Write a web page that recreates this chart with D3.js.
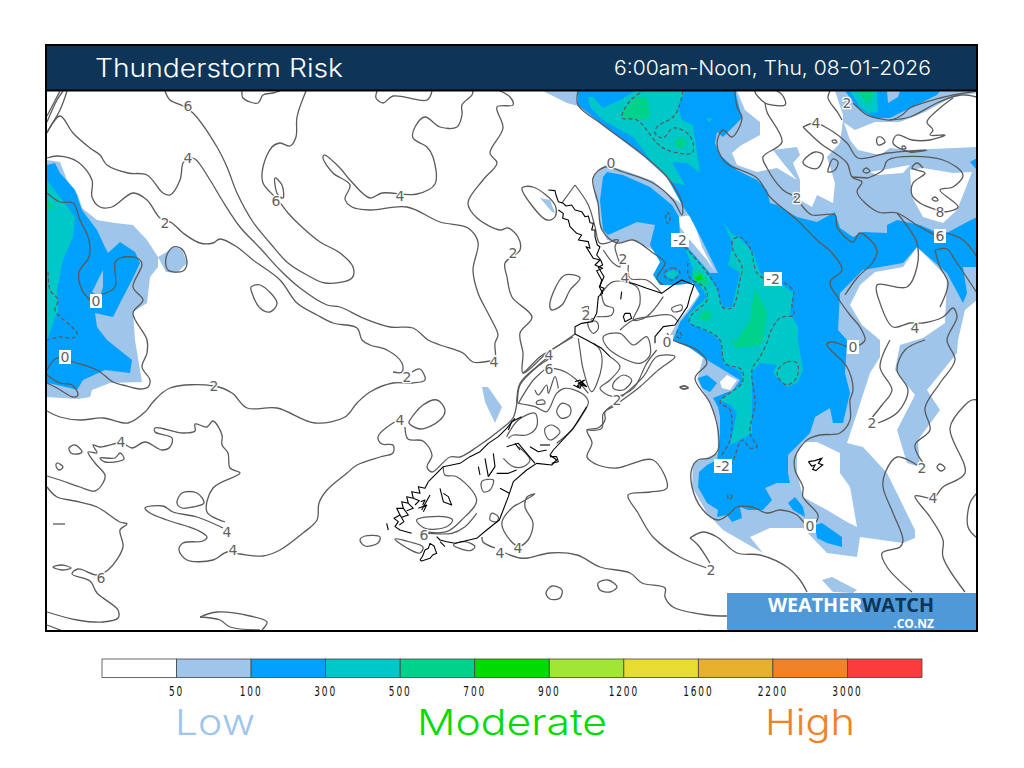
<!DOCTYPE html>
<html><head><meta charset="utf-8">
<script src="https://cdn.jsdelivr.net/npm/d3@7"></script>
<style>html,body{margin:0;padding:0;background:#fff}svg{display:block}</style>
</head><body><svg id="c" width="1024" height="768"></svg>
<script>
const titleText="Thunderstorm Risk", validText="6:00am-Noon, Thu, 08-01-2026";
const legendThresholds=["50","100","300","500","700","900","1200","1600","2200","3000"];
const legendColors=["#ffffff","#9fc5ea","#00a0ff","#00c8c8","#00d28c","#00dc00","#a0e632","#e6dc32","#e6af2d","#f08228","#fa3c3c"];
const riskWords=[["Low",215,"#9fc5ea",80],["Moderate",512,"#00dc00",190],["High",810,"#f08228",90]];

// CAPE areas on the map grid
const lowAreas=[
[[47,160],[60,162],[67,180],[78,195],[82,208],[97,220],[115,223],[133,225],[147,240],[158,257],[158,267],[150,277],[147,303],[133,312],[135,340],[142,382],[110,383],[92,390],[90,397],[78,399],[47,397]],
[[158,257],[166,272],[177,273],[187,263],[182,249],[173,247],[165,253]],
[[482,387],[488,387],[502,407],[495,423],[485,402]],
[[822,580],[832,577],[857,590],[853,593],[833,592]],
[[540,198],[550,200],[555,213],[552,212]],
[[835,91],[843,115],[843,122],[855,130],[875,122],[900,122],[925,112],[950,98],[977,93],[977,91]],
[[543,91],[555,97],[567,103],[578,106],[603,126],[643,156],[667,178],[682,204],[673,198],[653,181],[623,170],[605,165],[593,177],[595,197],[598,205],[600,225],[607,240],[620,243],[633,240],[653,250],[665,262],[657,278],[663,285],[680,285],[693,283],[700,293],[690,307],[677,323],[670,335],[673,340],[690,345],[703,358],[697,380],[710,403],[717,420],[718,453],[693,463],[692,487],[707,513],[723,530],[763,553],[750,537],[770,528],[803,528],[827,553],[857,557],[860,537],[903,543],[915,538],[915,530],[887,473],[863,447],[847,443],[857,413],[870,373],[880,357],[880,340],[862,325],[850,305],[860,285],[875,272],[903,267],[917,247],[947,277],[945,323],[923,338],[900,345],[895,370],[915,395],[897,430],[907,463],[920,467],[918,440],[940,410],[927,390],[957,353],[958,340],[965,310],[977,300],[977,147],[910,150],[890,148],[880,155],[858,150],[850,140],[843,120],[840,143],[827,157],[835,183],[833,203],[817,195],[812,207],[800,200],[800,180],[793,163],[800,155],[797,147],[773,150],[783,163],[797,180],[777,168],[757,172],[737,165],[732,153],[740,146],[760,135],[760,122],[745,110],[737,91]]
];
const clearAreas=[
[[678,217],[692,215],[702,247],[715,272],[707,260],[690,240],[680,227]],
[[797,453],[803,442],[817,442],[840,453],[840,473],[850,487],[857,527],[847,522],[827,510],[803,497],[797,473]],
[[910,170],[923,168],[953,173],[972,172],[965,190],[957,210],[943,223],[923,217],[912,197]],
[[870,172],[910,165],[903,173],[877,175]],
[[720,382],[727,375],[737,380],[730,390],[722,388]]
];
const midAreas=[
[[47,165],[55,163],[60,173],[75,190],[82,210],[97,230],[103,243],[108,253],[120,242],[135,252],[140,263],[132,280],[120,303],[113,317],[95,313],[97,327],[107,340],[132,360],[130,373],[105,370],[83,380],[77,390],[70,388],[48,383],[47,383]],
[[578,91],[578,105],[603,125],[643,155],[667,177],[682,205],[690,217],[702,240],[718,273],[710,273],[690,250],[680,238],[679,217],[672,205],[650,187],[623,175],[607,172],[603,177],[600,200],[603,230],[608,235],[637,222],[655,225],[650,245],[660,262],[653,275],[660,285],[675,285],[693,283],[700,295],[690,310],[680,322],[673,340],[690,348],[707,360],[727,372],[740,380],[733,390],[713,398],[718,407],[720,417],[720,437],[717,460],[707,465],[699,472],[698,487],[707,503],[718,510],[717,517],[727,515],[732,522],[742,518],[740,507],[748,510],[763,510],[772,500],[765,488],[777,483],[790,483],[788,473],[788,455],[810,433],[815,417],[830,408],[833,423],[843,423],[850,393],[845,373],[847,340],[838,330],[840,293],[863,270],[903,263],[917,247],[947,273],[963,303],[967,293],[963,267],[977,267],[977,217],[967,222],[943,235],[920,225],[897,220],[887,225],[887,233],[863,232],[853,237],[840,228],[835,212],[817,222],[797,217],[777,205],[770,203],[767,190],[757,180],[737,170],[720,155],[715,143],[717,132],[723,137],[742,118],[735,91]],
[[845,91],[857,107],[873,118],[890,118],[910,108],[937,95],[940,91]],
[[698,378],[707,375],[717,383],[710,392],[702,388]],
[[788,503],[795,497],[803,507],[805,517],[793,510]],
[[815,525],[822,523],[842,537],[842,547],[827,543],[817,538]],
[[970,162],[977,158],[977,170]]
];
const midHoles=[[[843,225],[855,224],[852,231],[843,230]]];
const lowInMid=[[[92,292],[103,270],[103,287],[100,297]],[[887,91],[888,103],[898,97],[900,91]]];
const tealAreas=[
[[47,180],[60,197],[75,217],[73,237],[63,260],[57,290],[58,310],[47,340]],
[[588,97],[593,97],[603,108],[620,100],[635,91],[685,91],[678,107],[682,120],[693,125],[700,173],[687,163],[672,162],[685,185],[673,183],[653,163],[633,137],[603,120],[590,107]],
[[707,118],[713,119],[708,122]],
[[723,222],[733,235],[740,238],[753,253],[760,273],[780,283],[793,293],[790,313],[798,327],[798,340],[803,370],[797,383],[787,387],[773,373],[777,365],[760,363],[752,372],[752,433],[740,440],[730,445],[737,412],[730,405],[720,400],[742,383],[742,372],[723,363],[720,340],[710,333],[690,323],[688,315],[707,297],[697,280],[687,253],[685,247],[705,268],[717,290],[723,308],[732,307],[740,273],[728,265],[733,243]],
[[666,273],[673,270],[679,273],[673,279],[667,277]],
[[850,91],[860,107],[868,113],[878,112],[877,91]]
];
const greenAreas=[
[[47,200],[53,205],[52,210],[47,208]],
[[622,112],[635,97],[648,97],[650,118],[635,120],[623,118]],
[[675,140],[682,137],[688,143],[682,148],[675,147]],
[[755,288],[767,313],[763,340],[760,345],[737,348],[730,340],[737,340],[750,320]],
[[697,317],[707,310],[713,315],[707,322]],
[[692,270],[703,273],[710,283],[702,287],[693,280]],
[[857,91],[867,105],[873,97],[873,91]]
];
const brightAreas=[[[694,278],[700,275],[703,278],[698,281]]];

// Lifted-index contours on the map grid
const contourLines=[
[[473,91],[472,95],[462,105],[462,115],[457,127],[440,127],[425,117],[415,127],[413,138],[427,147],[433,157],[435,184],[417,194],[382,193],[370,198],[350,180],[340,168],[324,155],[323,158],[333,173],[350,185],[345,199],[352,207],[370,210],[407,207],[440,222],[468,228],[478,242],[473,270],[478,293],[490,317],[498,335],[495,343],[495,360],[490,361],[473,362],[463,353],[440,345],[428,340],[413,328],[390,327],[363,318],[340,307],[327,305],[300,288],[280,270],[260,248],[240,227],[222,200],[210,180],[195,159],[188,158],[183,163],[180,180],[170,195],[163,193],[147,175],[128,173],[107,165],[100,155],[90,148],[73,133],[60,116],[47,133]],
[[165,91],[170,100],[183,106],[193,113],[217,147],[227,167],[237,193],[253,222],[270,243],[288,263],[307,275],[325,283],[352,278],[353,267],[340,253],[320,242],[303,228],[288,213],[278,200],[263,183],[263,167],[272,147],[280,143],[290,146],[296,137],[297,117],[306,91]],
[[47,158],[58,156],[78,162],[92,180],[92,197],[100,207],[112,207],[133,193],[147,200],[160,218],[172,223],[183,233],[200,243],[213,243],[220,239],[237,247],[253,260],[280,280],[297,303],[317,315],[333,323],[357,328],[362,340],[370,345],[387,350],[402,363],[402,372],[393,372]],
[[412,372],[420,369],[425,380],[412,383],[393,383],[370,392],[357,403],[345,417],[315,423],[277,408],[247,408],[232,393],[214,386],[170,388],[153,402],[145,412],[128,423],[103,418],[80,420],[60,417],[47,411]],
[[400,420],[393,423],[378,437],[382,444],[393,445],[393,453],[380,457],[357,465],[347,473],[327,490],[319,503],[317,520],[303,533],[280,550],[263,556],[240,554],[227,552],[213,560],[187,560],[179,550],[183,543],[203,541],[207,537],[197,530],[167,520],[150,513],[145,508],[163,506],[173,512],[197,517],[223,528]],
[[225,522],[207,512],[213,488],[240,473],[230,468],[228,453],[222,445],[222,435],[213,421],[207,427],[195,424],[195,431],[183,433],[155,428],[155,432],[172,438],[170,447],[162,450],[145,442],[132,448],[121,442],[117,443],[100,447],[93,445],[97,453],[88,452],[95,463],[105,475],[103,483],[95,491],[80,487],[60,480],[47,476]],
[[405,427],[408,439],[423,441],[432,455],[427,467],[432,472],[450,457],[460,457],[477,447],[500,430],[513,418],[517,403],[520,385],[537,367],[549,359]],
[[500,91],[510,97],[513,105],[497,107],[503,128],[490,153],[497,163],[483,180],[468,203],[477,218],[500,230],[508,228],[518,237],[520,250],[505,263],[507,277],[512,297],[532,317],[520,333],[523,353],[523,373],[547,353],[573,337]],
[[47,487],[57,497],[75,501],[97,507],[120,522],[127,524],[120,530],[123,547],[108,570],[97,575],[78,569],[72,574],[90,581],[97,593],[118,610],[118,618],[103,622],[77,620],[47,612]],
[[242,91],[243,98],[258,103],[263,95],[273,93],[280,91]],
[[377,91],[376,98],[383,103],[393,96],[427,100],[432,91]],
[[47,116],[60,91]],[[47,122],[57,100],[63,91]],[[47,132],[60,110],[67,91]],
[[53,524],[65,524]],[[47,625],[63,631]],
[[200,617],[217,612],[250,616],[267,622],[262,630]],[[200,617],[220,620],[230,627],[260,630]],
[[47,193],[60,202],[73,203],[80,220],[89,240],[89,257],[79,272],[82,290],[92,302]],
[[100,295],[115,287],[115,263],[120,258],[137,258],[142,264],[133,287],[143,300],[133,313],[147,340],[147,353],[142,367],[150,380],[148,387],[140,389],[123,385],[113,382],[97,370],[73,362],[57,358],[47,370]],
[[47,375],[60,383],[72,385],[78,395],[73,397],[57,388],[47,383]],
[[578,91],[578,105],[603,125],[643,155],[667,177],[682,203],[682,215],[673,200],[653,183],[623,172],[605,167],[593,178],[598,203],[602,230],[617,243],[633,240],[653,253],[665,263],[657,278],[663,285]],
[[667,333],[673,340],[697,350],[707,363],[695,378],[710,403],[718,430],[718,450],[710,458],[698,460],[692,468],[692,487],[703,510],[718,520],[728,515],[737,507],[752,507],[767,513],[780,510],[797,515],[805,523],[815,523],[818,515],[803,497],[803,487],[795,470],[795,457],[807,440],[820,435],[840,433],[850,420],[850,400],[853,390],[847,367],[827,345],[830,342],[848,347]],
[[765,103],[767,112],[782,142],[763,157],[767,168],[783,190],[797,198],[803,207],[812,215],[835,215],[837,227],[853,242],[860,233],[877,250],[873,262],[857,278],[845,295]],
[[735,91],[737,107],[742,118],[732,137],[723,130],[717,143],[725,162],[757,178],[770,197],[797,220],[817,240],[832,253],[842,270],[830,282],[838,298],[850,315],[860,327],[865,340],[858,346]],
[[830,91],[828,98],[838,113],[842,120]],
[[853,103],[867,115],[877,118],[890,120],[902,115],[910,108],[940,98],[953,95],[977,91]],
[[890,120],[910,117],[937,103],[960,95],[977,97]],
[[803,127],[815,123],[827,128],[847,143],[858,158],[888,153],[927,150],[910,152],[893,143],[897,135],[912,140],[930,140],[945,135],[930,135],[933,130],[927,122],[940,108],[953,98]],
[[803,127],[820,143],[847,163],[852,177],[862,182],[857,192],[878,212],[897,213],[920,227],[940,236],[943,233],[963,240],[977,257]],
[[868,178],[883,170],[888,160],[943,160],[963,175],[953,187],[940,190],[958,207],[945,212],[937,210],[920,203],[912,195],[913,183],[925,173],[912,168],[917,163],[923,168]],
[[852,177],[868,178]],
[[897,213],[910,230],[917,243],[917,267],[907,287],[877,285],[880,303],[893,327],[910,323],[923,323],[943,317],[953,308],[957,317],[947,340],[955,360],[940,383],[925,408],[930,430],[915,445],[923,463]],
[[935,250],[947,249],[955,260],[977,293]],[[935,250],[940,267],[948,283],[940,307]],
[[917,465],[897,457],[885,473],[883,487],[893,513],[903,540],[900,547],[882,553],[887,567],[912,592]],
[[890,340],[880,367],[892,390],[882,405],[870,420]],
[[878,423],[898,412],[908,390],[897,370],[905,350],[925,340]],
[[977,400],[972,400],[965,405],[950,428],[965,473],[943,487],[933,498],[915,496],[930,517],[943,540],[943,557],[965,592]],
[[977,493],[970,503],[968,527],[977,538]],
[[613,405],[605,412],[605,420],[598,428],[587,430],[592,443],[587,457],[598,465],[617,468],[653,460],[667,488],[650,492],[628,495],[638,513],[653,537],[680,557],[707,568]],
[[690,538],[703,532],[717,537],[737,553],[760,555],[787,567],[800,580],[807,592]],[[690,538],[698,545],[710,563]],
[[505,553],[520,558],[528,558],[550,553],[577,555],[600,567],[630,573],[642,583],[665,588],[665,597],[673,607],[707,615],[727,616]],
[[482,537],[483,542],[495,548]],
[[697,631],[700,630]]
];
const contourLoops=[
[[275,178],[282,185],[283,198],[278,195],[275,185]],
[[69,448],[75,445],[82,452],[77,454],[71,453]],[[57,463],[63,467],[59,470],[56,466]],
[[100,458],[115,458],[120,453],[124,459],[105,462]],
[[177,503],[182,493],[197,493],[204,503],[193,507],[182,508]],
[[53,567],[62,565],[71,568],[62,570]],
[[360,540],[365,536],[380,537],[378,543],[365,546]],
[[410,420],[423,405],[437,400],[445,410],[440,420],[420,429],[409,423]],
[[395,539],[410,542],[423,547],[420,553],[407,548]],
[[251,287],[260,285],[277,303],[270,312],[260,308],[252,293]],
[[166,258],[173,247],[182,249],[187,263],[183,271],[168,270]],
[[755,91],[765,103],[772,105],[785,105],[785,100],[777,91]],
[[803,162],[815,152],[823,155],[818,168],[808,167]],[[828,170],[833,159],[838,162],[835,170],[828,172]],
[[877,138],[881,137],[885,142],[878,145]],[[832,141],[835,140],[837,142],[834,143]],
[[863,171],[866,168],[870,171],[866,173]],[[932,199],[935,197],[938,200],[935,201]],[[902,147],[904,146],[906,148],[903,149]],
[[937,467],[940,464],[945,468],[941,471]],
[[546,593],[552,586],[562,590],[560,598],[550,599]],[[598,583],[608,580],[617,587],[610,592],[600,590]],
[[680,387],[684,386],[688,388],[684,389]],
[[550,308],[553,293],[565,275],[580,278],[570,290],[562,305],[552,310]],
[[522,188],[533,187],[555,205],[555,217],[547,220],[530,203]],
[[535,494],[527,497],[525,507],[533,523],[528,540],[518,546],[505,533],[502,522],[513,507],[520,503]]
];
const dashedLines=[
[[683,91],[675,115],[657,127],[655,133],[663,138],[673,128],[687,133],[693,143],[692,153],[667,150],[657,143],[637,120],[622,118],[625,108],[633,98],[643,91]],
[[688,263],[689,277],[705,288],[707,300],[690,317],[690,323],[710,332],[720,340],[725,363],[742,370],[742,383],[720,402],[730,410],[730,440],[720,457]],
[[685,247],[705,270],[718,290],[722,307],[732,308],[740,280],[742,267],[733,250],[733,240],[740,237],[750,248],[757,273],[767,280]],
[[778,280],[793,290],[792,307],[794,315],[780,318],[770,333],[768,340],[760,357],[752,370],[755,403],[750,433],[757,447],[750,448],[742,440],[732,463],[727,467]],
[[48,272],[50,290],[58,300],[55,310],[72,327],[77,333],[73,338],[60,337],[47,340]]
];
const dashedLoops=[
[[667,212],[670,217],[669,223],[666,222]],
[[665,272],[673,268],[680,272],[673,280],[665,277]],
[[778,370],[787,362],[797,363],[797,377],[787,385],[778,377]],
[[728,495],[732,496],[729,500]],
[[678,330],[677,337],[682,337]]
];
const contourLabels=[
["6",188,106,0],["4",188,158,0],["6",276,201,0],["4",400,196,0],["2",165,223,0],["2",513,253,0],["0",611,163,0],["2",847,103,0],["4",816,123,0],["2",797,198,0],["8",940,212,0],["6",940,236,1],["2",623,259,0],["4",625,278,0],["2",586,315,0],["4",494,362,0],["2",407,377,0],["2",214,386,0],["4",400,420,0],["4",121,442,0],["4",227,532,0],["4",233,550,0],["6",101,578,0],["6",424,535,0],["4",500,553,0],["4",518,548,0],["6",549,369,0],["2",617,400,0],["2",711,570,0],["2",872,423,0],["4",915,328,0],["2",922,468,0],["4",933,498,0],["4",549,355,0],
["0",96,301,1],["0",65,357,1],["0",667,342,1],["0",853,347,1],["0",810,526,1],["-2",680,240,1],["-2",773,279,1],["-2",723,466,1]
];

// New Zealand detail, on its own finer grid
const coastLines=[
[[505,30],[525,32],[528,45],[535,65],[550,70],[558,78],[575,75],[585,90],[605,95],[615,110],[625,108],[630,128],[640,130],[635,150],[645,150],[645,170],[652,195],[660,200],[650,225],[662,240],[668,255],[655,262],[672,290],[658,320],[668,340],[655,350],[650,400],[637,425],[605,430],[585,440],[585,462],[620,480],[665,505],[690,530]],
[[535,90],[550,100],[548,115],[565,120],[570,140],[590,160],[605,165],[595,180],[625,185],[630,205],[618,200],[640,235],[660,240],[645,255],[668,265],[650,272],[665,300],[660,320],[672,325],[660,345]],
[[745,295],[750,308],[765,312],[800,325],[845,340],[880,315],[905,300],[942,315],[930,350],[922,380],[895,420],[885,435],[850,440],[825,470],[825,490]],
[[145,905],[190,860],[240,850],[270,830],[300,815],[325,790],[355,770],[380,745],[405,715]],
[[620,680],[580,745],[520,810],[510,825],[530,840],[515,855],[470,850],[440,870],[400,905],[385,950],[358,1020],[320,1050],[290,1075],[225,1090],[200,1085],[180,1080],[170,1070]],
[[145,905],[135,925],[115,920],[120,940],[95,935],[100,955],[80,950],[85,970],[65,965],[70,985],[50,985],[60,1005],[42,1015],[55,1025],[45,1040],[60,1050],[95,1060]],
[[100,955],[118,962],[105,975]],[[85,970],[100,985],[80,992]],[[70,985],[85,1005],[65,1012]],[[60,1005],[72,1025],[58,1035]],
[[125,990],[150,945]],[[115,985],[140,975],[130,995]],[[122,965],[135,960],[128,975]],
[[180,925],[190,965],[215,975],[205,950],[190,940]],
[[425,710],[395,725],[385,750]],[[295,860],[300,885]],[[315,835],[325,890]],[[340,820],[345,860],[325,890]],
[[380,800],[415,790],[440,820],[465,850]],[[405,790],[420,810]],[[450,800],[475,815],[500,810]],[[480,795],[510,795]],[[350,880],[385,880],[410,870]],[[360,925],[388,940]],
[[585,605],[600,600],[610,615],[590,620],[605,605],[620,620],[595,610],[615,600]],[[580,615],[600,625],[610,600]],
[[735,400],[750,400],[755,415],[735,425],[730,410],[735,400]],[[725,335],[722,358]],
[[20,1030],[25,1050]],
[[120,1140],[128,1128],[135,1110],[145,1105],[150,1090],[162,1098],[170,1120],[158,1125],[150,1135],[125,1143],[120,1140]],
[[180,1085],[195,1100]],
[[510,830],[530,830],[535,845],[515,850]]
];
const nzContours=[
[[410,670],[420,610],[470,560],[500,535]],
[[415,670],[460,600],[495,568]],[[520,565],[555,575],[590,600],[625,640]],
[[415,670],[465,680],[500,695],[530,640],[555,625],[605,640],[625,665],[610,700],[575,750],[530,790]],
[[465,630],[475,645],[500,615],[505,640],[525,590],[535,625]],
[[380,770],[415,720],[465,700],[470,740],[440,765],[400,765],[385,775]],
[[190,860],[195,885],[230,890],[290,960],[245,1020],[200,1055],[130,1055]],
[[120,1060],[140,1060],[215,1060],[255,1040],[290,1000]],
[[370,835],[400,860],[430,860],[450,840],[415,800]],
[[585,462],[530,500],[480,530],[440,570],[428,580]],
[[665,340],[700,305],[770,320],[780,370],[760,420],[800,410],[850,350]],
[[665,345],[675,375],[700,385],[695,405],[650,410]],
[[720,450],[760,420],[810,410],[870,405],[895,425]],
[[595,475],[600,510],[610,570],[635,635],[665,560],[660,510],[640,490]],
[[690,530],[720,560],[690,600],[660,625],[700,650],[760,625],[800,550],[830,510]],
[[725,650],[790,590],[830,530],[885,530],[835,570],[780,620],[720,665]],
[[700,680],[670,700],[665,745],[620,750]],
[[605,385],[625,380],[620,420],[640,415]],
[[700,180],[715,180],[705,200],[720,260],[700,250],[670,210]],
[[745,255],[750,295],[800,300],[845,340]],
[[585,15],[545,70]],[[585,15],[625,75],[645,140],[660,190],[705,180]]
];
const nzLoops=[
[[545,670],[570,680],[570,705],[545,715],[530,695]],
[[495,745],[515,735],[540,755],[510,780],[495,760]],
[[305,905],[340,900],[330,930],[310,935]],
[[335,1000],[355,1010],[350,1025],[330,1020]],
[[110,1020],[190,1010],[218,1020],[200,1040],[135,1045]],
[[625,425],[650,425],[655,445],[640,460],[625,440]],
[[670,470],[720,460],[760,495],[800,470],[810,525],[780,550],[720,530],[680,500]],
[[875,385],[905,375],[905,390],[880,395]],
[[700,610],[730,585],[755,600],[730,630],[700,625]],
[[470,665],[490,660],[495,670],[470,672]],
[[220,1095],[255,1085],[285,1100],[270,1112]],
[[900,622],[915,618],[925,623],[912,627]]
];
const chathamCoast=[[[895,365],[915,362],[935,355],[925,370],[938,375],[925,385],[918,392],[908,388],[915,375],[905,378],[895,365]]];

const svg=d3.select("#c");
const x=d3.scaleLinear().domain([46,977]).range([46,977]);
const y=d3.scaleLinear().domain([91,631]).range([91,631]);
const nx=d3.scaleLinear().domain([0,1020]).range([380,720]);
const ny=d3.scaleLinear().domain([0,1170]).range([180,570]);

svg.append("defs").append("clipPath").attr("id","mapclip").append("rect")
  .attr("x",x(46)).attr("y",y(91)).attr("width",x(977)-x(46)).attr("height",y(631)-y(91));
const map=svg.append("g").attr("clip-path","url(#mapclip)");
map.append("rect").attr("x",46).attr("y",91).attr("width",931).attr("height",540).attr("fill","#fff");

const area=d3.line().x(d=>x(d[0])).y(d=>y(d[1])).curve(d3.curveLinearClosed);
const smooth=d3.line().x(d=>x(d[0])).y(d=>y(d[1])).curve(d3.curveCatmullRom.alpha(.5));
const smoothC=d3.line().x(d=>x(d[0])).y(d=>y(d[1])).curve(d3.curveCatmullRomClosed.alpha(.5));
const nLine=d3.line().x(d=>nx(d[0])).y(d=>ny(d[1])).curve(d3.curveLinear);
const nSmooth=d3.line().x(d=>nx(d[0])).y(d=>ny(d[1])).curve(d3.curveCatmullRom.alpha(.5));
const nSmoothC=d3.line().x(d=>nx(d[0])).y(d=>ny(d[1])).curve(d3.curveCatmullRomClosed.alpha(.5));

function fills(data,col){map.append("g").selectAll("path").data(data).join("path").attr("d",area).attr("fill",col);}
fills(lowAreas,legendColors[1]);
fills(clearAreas,"#fff");
fills(midAreas,legendColors[2]);
fills(midHoles,legendColors[1]);
fills(lowInMid,legendColors[1]);
fills(tealAreas,legendColors[3]);
fills(greenAreas,legendColors[4]);
fills(brightAreas,legendColors[5]);

function strokes(data,gen,col,w,dash){
  map.append("g").selectAll("path").data(data).join("path").attr("d",gen).attr("fill","none")
    .attr("stroke",col).attr("stroke-width",w).attr("stroke-dasharray",dash||null).attr("stroke-linejoin","round");
}
const grey="#5a5a5a";
strokes(contourLines,smooth,grey,1.3);
strokes(contourLoops,smoothC,grey,1.3);
strokes(nzContours,nSmooth,grey,1.2);
strokes(nzLoops,nSmoothC,grey,1.2);
strokes(dashedLines,smooth,grey,1.2,"4 2.5");
strokes(dashedLoops,smoothC,grey,1.2,"4 2.5");
strokes(coastLines,nLine,"#000",1.1);
map.append("g").selectAll("path").data(chathamCoast).join("path")
  .attr("d",d3.line().x(d=>x(510+d[0]/3)).y(d=>y(340+d[1]/3)))
  .attr("fill","none").attr("stroke","#000").attr("stroke-width",1.2);

const lab=map.append("g").attr("font-family","DejaVu Sans").attr("font-size",14).attr("text-anchor","middle");
contourLabels.filter(d=>d[3]).forEach(d=>{
  const w=d[0].length>1?18:12;
  lab.append("rect").attr("x",x(d[1])-w/2).attr("y",y(d[2])-7).attr("width",w).attr("height",14).attr("fill","#fff");
});
lab.selectAll("text").data(contourLabels).join("text")
  .attr("x",d=>x(d[1])).attr("y",d=>y(d[2])+5).text(d=>d[0]).attr("fill","#606060")
  .attr("stroke",d=>d[3]?null:"#fff").attr("stroke-width",2.5).attr("paint-order","stroke");

// Logo
const logo=svg.append("g");
logo.append("rect").attr("x",727).attr("y",593).attr("width",250).attr("height",38).attr("fill","#4f99d8");
const lt=logo.append("text").attr("x",768).attr("y",612).attr("font-family","Open Sans").attr("font-weight",700).attr("font-size",19).attr("textLength",166).attr("lengthAdjust","spacingAndGlyphs");
lt.append("tspan").attr("fill","#fff").text("WEATHER");
lt.append("tspan").attr("fill","#0e3558").text("WATCH");
logo.append("text").attr("x",934).attr("y",628).attr("text-anchor","end").attr("font-family","Open Sans").attr("font-weight",700).attr("font-size",12).attr("fill","#fff").text(".CO.NZ");

// Frame and header
svg.append("rect").attr("x",46).attr("y",45).attr("width",931).attr("height",46).attr("fill","#0e3558");
svg.append("rect").attr("x",46).attr("y",45).attr("width",931).attr("height",586).attr("fill","none").attr("stroke","#000").attr("stroke-width",2);
svg.append("line").attr("x1",46).attr("x2",977).attr("y1",90.5).attr("y2",90.5).attr("stroke","#000").attr("stroke-width",2);
svg.append("text").attr("x",95).attr("y",77).attr("font-family","Inter").attr("font-weight",300).attr("font-size",25).attr("fill","#fff").attr("textLength",248).attr("lengthAdjust","spacingAndGlyphs").text(titleText);
svg.append("text").attr("x",614).attr("y",75).attr("font-family","Inter").attr("font-weight",300).attr("font-size",20).attr("fill","#fff").attr("textLength",317).attr("lengthAdjust","spacingAndGlyphs").text(validText);

// Legend
const lx=d3.scaleLinear().domain([0,legendColors.length]).range([102,922]);
const leg=svg.append("g");
leg.selectAll("rect").data(legendColors).join("rect")
  .attr("x",(d,i)=>lx(i)).attr("y",659).attr("width",(d,i)=>lx(i+1)-lx(i)).attr("height",18.5)
  .attr("fill",d=>d).attr("stroke","#444").attr("stroke-width",.8);
legendThresholds.forEach((t,i)=>{
  leg.append("text").attr("transform",`translate(${lx(i+1)},696) scale(.62,1)`).attr("text-anchor","middle")
    .attr("font-family","DejaVu Sans").attr("font-size",14.5).attr("letter-spacing",3).attr("fill","#111").text(t);
});
svg.append("g").selectAll("text").data(riskWords).join("text")
  .attr("x",d=>d[1]).attr("y",735).attr("text-anchor","middle").attr("font-family","Inter").attr("font-weight",300)
  .attr("font-size",36).attr("fill",d=>d[2]).attr("textLength",d=>d[3]).attr("lengthAdjust","spacingAndGlyphs").text(d=>d[0]);
</script></body></html>
